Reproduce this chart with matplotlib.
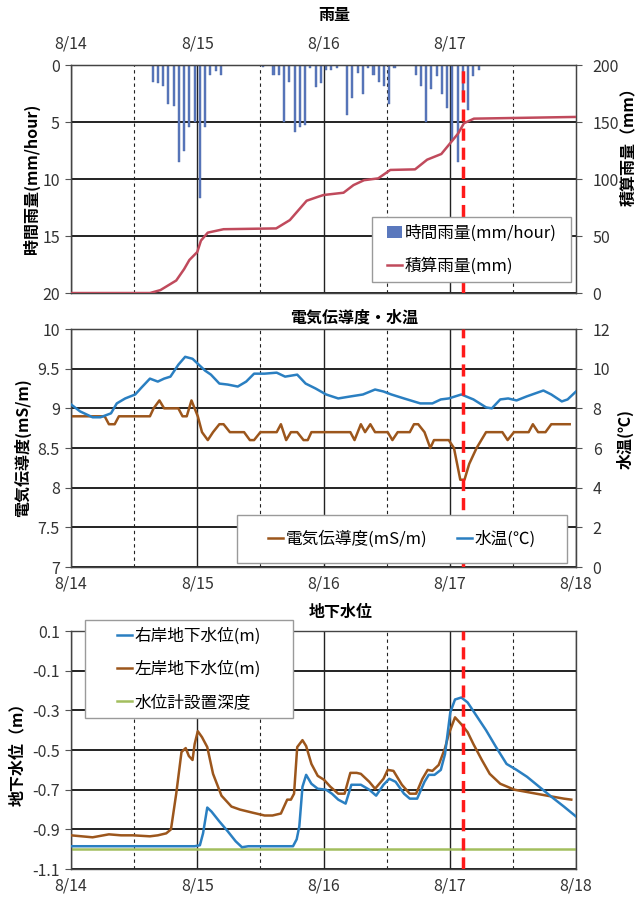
"""
Rain, EC / water temperature and groundwater level, 8/14 - 8/18.
"""

import matplotlib
matplotlib.use('Agg')
import matplotlib.pyplot as plt
from matplotlib.patches import Patch, Rectangle
from matplotlib.lines import Line2D

plt.rcParams['font.family'] = ['Noto Sans CJK JP', 'DejaVu Sans']

# x axis: hours since 8/14 00:00
day_labels = ['8/14', '8/15', '8/16', '8/17', '8/18']
event_hour = 74.6  # red dashed marker

# hourly rain (hour index where the interval starts, mm/hour)
rain_hours = [15, 16, 17, 18, 19, 20, 21, 22, 23, 24, 25, 26, 27, 28,
              36, 38, 39, 40, 41, 42, 43, 44, 45, 46, 47, 48, 49, 50,
              52, 53, 54, 55, 56, 57, 58, 59, 60, 61,
              65, 66, 67, 68, 69, 70, 71, 72, 73, 74, 75, 76, 77]
rain_vals = [1.5, 1.6, 1.8, 3.4, 3.6, 8.5, 7.5, 5.4, 5.0, 11.7, 5.4, 0.9, 0.5, 0.9,
             0.2, 0.9, 0.9, 5.0, 1.5, 5.9, 5.4, 5.3, 0.3, 1.9, 1.6, 0.4, 0.4, 0.3,
             4.4, 2.9, 0.7, 2.5, 0.3, 0.9, 1.5, 1.8, 3.4, 0.3,
             0.9, 1.8, 5.0, 2.1, 1.0, 2.5, 3.8, 6.7, 8.5, 3.1, 3.9, 1.0, 0.4]

# cumulative rain (mm)
cum_hours = [0, 15, 17, 20, 21.5, 22.5, 24, 24.7, 26, 29,
             39, 41.6, 44.8, 47, 48, 51.8, 53.7, 55.7, 58.4, 60.7,
             65.4, 67.7, 70.4, 72, 73.6, 74.7, 76.6, 96]
cum_vals = [0, 0, 2.6, 11, 21, 29, 36, 46, 53, 56,
            56.7, 64, 81, 84.5, 86, 88, 94.7, 99, 100.6, 108,
            108.5, 117, 122, 131, 140, 149, 153, 154.5]

# electric conductivity (mS/m)
ec_hours = [0, 6.4, 7.2, 8.3, 9.1, 15, 15.7, 16.8, 17.7, 20.4,
            21.2, 22, 22.9, 23.5, 24.1, 24.9, 26, 27, 28.2, 29,
            30.2, 32.9, 34, 34.8, 36, 39.1, 39.9, 40.9, 41.8, 43,
            44.2, 45, 45.7, 53.1, 53.9, 55.1, 55.9, 56.9, 57.8, 60.2,
            61.1, 62.1, 64.4, 65.2, 66, 67.2, 68.3, 69, 71.8, 72.8,
            73.4, 74, 74.8, 75.7, 77.1, 78.9, 82, 83, 84.2, 87,
            87.8, 88.8, 90.2, 91.3, 94.8]
ec_vals = [8.9, 8.9, 8.8, 8.8, 8.9, 8.9, 9.0, 9.1, 9.0, 9.0,
           8.9, 8.9, 9.1, 9.0, 8.9, 8.7, 8.6, 8.7, 8.8, 8.8,
           8.7, 8.7, 8.6, 8.6, 8.7, 8.7, 8.8, 8.6, 8.7, 8.7,
           8.6, 8.6, 8.7, 8.7, 8.6, 8.8, 8.7, 8.8, 8.7, 8.7,
           8.6, 8.7, 8.7, 8.8, 8.8, 8.7, 8.5, 8.6, 8.6, 8.5,
           8.3, 8.1, 8.1, 8.3, 8.5, 8.7, 8.7, 8.6, 8.7, 8.7,
           8.8, 8.7, 8.7, 8.8, 8.8]

# water temperature (deg C)
temp_hours = [0, 1.7, 4.1, 5.6, 7.6, 8.7, 10.3, 12.2, 13.4, 15,
              16.5, 17.7, 18.9, 20.4, 21.7, 23.1, 24.3, 25.5, 26.6, 28.2,
              29.8, 31.7, 33.3, 34.8, 36.8, 39.1, 40.7, 43, 44.6, 46.5,
              48.5, 50.8, 53.1, 55.5, 57.8, 59.4, 60.9, 63.3, 66.4, 68.7,
              70.3, 71.8, 74.2, 76.5, 78.9, 80, 81.6, 83.1, 84.7, 86.6,
              88.2, 89.8, 91.3, 93.3, 94.4, 96]
temp_vals = [8.2, 7.85, 7.55, 7.55, 7.75, 8.25, 8.5, 8.7, 9.05, 9.5,
             9.35, 9.5, 9.6, 10.2, 10.6, 10.5, 10.2, 9.9, 9.7, 9.25,
             9.2, 9.1, 9.35, 9.75, 9.75, 9.8, 9.6, 9.7, 9.25, 9.0,
             8.7, 8.5, 8.6, 8.7, 8.95, 8.85, 8.7, 8.5, 8.25, 8.25,
             8.45, 8.5, 8.7, 8.45, 8.05, 8.0, 8.45, 8.5, 8.4, 8.6,
             8.75, 8.9, 8.7, 8.35, 8.45, 8.85]

# left bank groundwater level (m)
lb_hours = [0, 4.1, 7.2, 9.5, 11.8, 15, 16.5, 18.1, 19, 20,
            21, 21.8, 22.4, 23.1, 23.5, 24.1, 24.9, 25.9, 27, 28.6,
            30.5, 32.1, 34.4, 36.8, 38.3, 39.9, 41.1, 41.8, 42.4, 43,
            44, 44.7, 45.7, 46.9, 48.1, 49.3, 50.8, 52, 53.1, 54.3,
            55.1, 56.7, 57.8, 59.4, 60.2, 61.3, 62.9, 64.4, 65.6, 66.8,
            67.8, 68.7, 69.9, 71.1, 71.8, 73, 74.2, 75.4, 76.5, 78.1,
            79.6, 81.6, 84.3, 87.4, 90.5, 93.7, 95.1]
lb_vals = [-0.93, -0.94, -0.925, -0.93, -0.93, -0.935, -0.93, -0.92, -0.90, -0.72,
           -0.51, -0.49, -0.53, -0.55, -0.47, -0.405, -0.435, -0.485, -0.62, -0.73,
           -0.785, -0.80, -0.815, -0.83, -0.83, -0.82, -0.75, -0.75, -0.72, -0.485,
           -0.45, -0.48, -0.57, -0.63, -0.65, -0.685, -0.72, -0.72, -0.615, -0.615,
           -0.62, -0.66, -0.695, -0.645, -0.60, -0.605, -0.675, -0.72, -0.72, -0.645,
           -0.60, -0.605, -0.575, -0.49, -0.42, -0.335, -0.37, -0.41, -0.47, -0.55,
           -0.62, -0.67, -0.70, -0.715, -0.73, -0.745, -0.75]

# right bank groundwater level (m)
rb_hours = [0, 23.5, 24.5, 25.1, 25.9, 26.7, 28.2, 29.8, 31.3, 32.5,
            33.7, 40.7, 42.2, 42.9, 43.4, 44, 44.7, 45.7, 46.9, 48.5,
            49.6, 50.8, 52.2, 53.3, 55.1, 56.7, 58, 59.4, 60.5, 61.7,
            63.3, 64.4, 65.8, 67.2, 68, 69.1, 70.3, 71.1, 72.1, 73,
            74.2, 75.4, 76.9, 78.9, 80.8, 82.8, 84.7, 86.7, 89, 91.3,
            93.7, 96]
rb_vals = [-0.985, -0.985, -0.98, -0.92, -0.79, -0.81, -0.86, -0.91, -0.96, -0.99,
           -0.985, -0.985, -0.985, -0.95, -0.885, -0.685, -0.625, -0.67, -0.695, -0.70,
           -0.72, -0.75, -0.77, -0.675, -0.675, -0.70, -0.73, -0.675, -0.645, -0.66,
           -0.72, -0.745, -0.745, -0.66, -0.625, -0.625, -0.60, -0.52, -0.31, -0.245,
           -0.235, -0.26, -0.32, -0.40, -0.485, -0.57, -0.60, -0.635, -0.685, -0.735,
           -0.785, -0.835]

# logger installation depth (m)
depth_hours = [0, 96]
depth_vals = [-1.0, -1.0]

# Colors
C_BAR = '#5A78BD'
C_CUM = '#C04A5C'
C_BLUE = '#2A7FC1'
C_BROWN = '#9C561C'
C_GREEN = '#A3BE5E'
C_RED = '#FF1A1A'
C_TXT = '#333333'

FS = 11.5     # tick labels
FS_LAB = 11.5  # axis labels / titles
FS_LEG = 12    # legends


def style_axes(ax):
    """Day grid (solid) and half-day grid (dashed) plus tick styling."""
    ax.set_xlim(0, 96)
    ax.set_xticks([0, 24, 48, 72, 96])
    ax.set_xticks([12, 36, 60, 84], minor=True)
    ax.set_xticklabels(day_labels, fontsize=FS, color=C_TXT)
    ax.grid(True, which='major', axis='x', color='#222222', lw=1.0)
    ax.grid(True, which='minor', axis='x', color='#222222', lw=0.8, ls=(0, (3, 3)))
    ax.grid(True, which='major', axis='y', color='#222222', lw=1.4)
    ax.tick_params(axis='x', which='both', length=0, pad=6)
    ax.tick_params(axis='y', length=4, pad=4, labelsize=FS, labelcolor=C_TXT,
                   color='#555555')
    for s in ax.spines.values():
        s.set_color('#444444')
        s.set_linewidth(1.0)
    ax.set_axisbelow(True)


def style_twin(ax):
    ax.tick_params(axis='y', length=4, pad=8, labelsize=FS, labelcolor=C_TXT,
                   color='#555555')
    for s in ax.spines.values():
        s.set_color('#444444')


def boxed_legend(ax, handles, labels, box, **kw):
    """Legend drawn without frame, on top of a white box given in axes fraction."""
    x0, y0, x1, y1 = box
    ax.add_artist(Rectangle((x0, y0), x1 - x0, y1 - y0, transform=ax.transAxes,
                            facecolor='white', edgecolor='#9A9A9A', lw=1.0,
                            clip_on=False, zorder=8))
    leg = ax.legend(handles, labels, loc='center',
                    bbox_to_anchor=((x0 + x1) / 2, (y0 + y1) / 2),
                    frameon=False, fontsize=FS_LEG, handlelength=0.9,
                    handletextpad=0.15, borderpad=0, **kw)
    leg.set_zorder(9)
    return leg


fig = plt.figure(figsize=(6.41, 9.0), dpi=100)

# ---------------- 雨量 ----------------
ax1 = fig.add_axes([0.1108, 0.6744, 0.7878, 0.2533])
style_axes(ax1)
ax1.xaxis.tick_top()
ax1.set_xticks([0, 24, 48, 72])
ax1.set_xticklabels(day_labels[:4], fontsize=FS, color=C_TXT)
ax1.tick_params(axis='x', which='both', length=0, pad=9)
ax1.bar([h + 0.5 for h in rain_hours], rain_vals, width=0.4, color=C_BAR,
        edgecolor='#4A68A8', linewidth=0.3, zorder=2)
ax1.set_ylim(20, 0)
ax1.set_yticks([0, 5, 10, 15, 20])
ax1.set_ylabel('時間雨量(mm/hour)', fontsize=FS_LAB, fontweight='bold')
ax1.yaxis.set_label_coords(-0.061, 0.5)

ax1b = ax1.twinx()
style_twin(ax1b)
ax1b.plot(cum_hours, cum_vals, color=C_CUM, lw=1.8, zorder=3)
ax1b.axvline(event_hour, color=C_RED, lw=2.5, ls=(0, (3.5, 2)), zorder=4)
ax1b.set_ylim(0, 200)
ax1b.set_yticks([0, 50, 100, 150, 200])
ax1b.set_ylabel('積算雨量（mm）', fontsize=FS_LAB, fontweight='bold')
ax1b.yaxis.set_label_coords(1.087, 0.66)

handles = [Patch(facecolor=C_BAR, edgecolor='none'),
           Line2D([], [], color=C_CUM, lw=1.8)]
boxed_legend(ax1b, handles, ['時間雨量(mm/hour)', '積算雨量(mm)'],
             (0.596, 0.048, 0.990, 0.333), labelspacing=0.95, handleheight=0.7)
fig.text(0.522, 0.983, '雨量', ha='center', va='center', fontsize=FS_LAB,
         fontweight='bold')

# ---------------- 電気伝導度・水温 ----------------
ax2 = fig.add_axes([0.1108, 0.370, 0.7878, 0.2644])
style_axes(ax2)
ax2.plot(ec_hours, ec_vals, color=C_BROWN, lw=1.8, zorder=3)
ax2.set_ylim(7, 10)
ax2.set_yticks([7, 7.5, 8, 8.5, 9, 9.5, 10])
ax2.set_yticklabels(['7', '7.5', '8', '8.5', '9', '9.5', '10'])
ax2.set_ylabel('電気伝導度(mS/m)', fontsize=FS_LAB, fontweight='bold')
ax2.yaxis.set_label_coords(-0.079, 0.5)

ax2b = ax2.twinx()
style_twin(ax2b)
ax2b.plot(temp_hours, temp_vals, color=C_BLUE, lw=1.8, zorder=3)
ax2b.axvline(event_hour, color=C_RED, lw=2.5, ls=(0, (3.5, 2)), zorder=4)
ax2b.set_ylim(0, 12)
ax2b.set_yticks([0, 2, 4, 6, 8, 10, 12])
ax2b.set_ylabel('水温(℃)', fontsize=FS_LAB, fontweight='bold')
ax2b.yaxis.set_label_coords(1.081, 0.54)

handles = [Line2D([], [], color=C_BROWN, lw=1.8), Line2D([], [], color=C_BLUE, lw=1.8)]
boxed_legend(ax2b, handles, ['電気伝導度(mS/m)', '水温(℃)'],
             (0.329, 0.017, 0.982, 0.218), ncol=2, columnspacing=1.8)
fig.text(0.552, 0.647, '電気伝導度・水温', ha='center', va='center',
         fontsize=FS_LAB, fontweight='bold')

# ---------------- 地下水位 ----------------
ax3 = fig.add_axes([0.1108, 0.0344, 0.7878, 0.2644])
style_axes(ax3)
ax3.plot(depth_hours, depth_vals, color=C_GREEN, lw=1.8, zorder=2)
ax3.plot(lb_hours, lb_vals, color=C_BROWN, lw=1.8, zorder=3)
ax3.plot(rb_hours, rb_vals, color=C_BLUE, lw=1.8, zorder=4)
ax3.axvline(event_hour, color=C_RED, lw=2.5, ls=(0, (3.5, 2)), zorder=5)
ax3.set_ylim(-1.1, 0.1)
yt = [0.1, -0.1, -0.3, -0.5, -0.7, -0.9, -1.1]
ax3.set_yticks(yt)
ax3.set_yticklabels([f'{v:.1f}' for v in yt])
ax3.set_ylabel('地下水位（m）', fontsize=FS_LAB, fontweight='bold')
ax3.yaxis.set_label_coords(-0.090, 0.5)

handles = [Line2D([], [], color=C_BLUE, lw=1.8),
           Line2D([], [], color=C_BROWN, lw=1.8),
           Line2D([], [], color=C_GREEN, lw=1.8)]
boxed_legend(ax3, handles, ['右岸地下水位(m)', '左岸地下水位(m)', '水位計設置深度'],
             (0.028, 0.634, 0.440, 1.046), labelspacing=0.95)
fig.text(0.532, 0.320, '地下水位', ha='center', va='center', fontsize=FS_LAB,
         fontweight='bold')

plt.savefig('out.png', dpi=100)
plt.close()
